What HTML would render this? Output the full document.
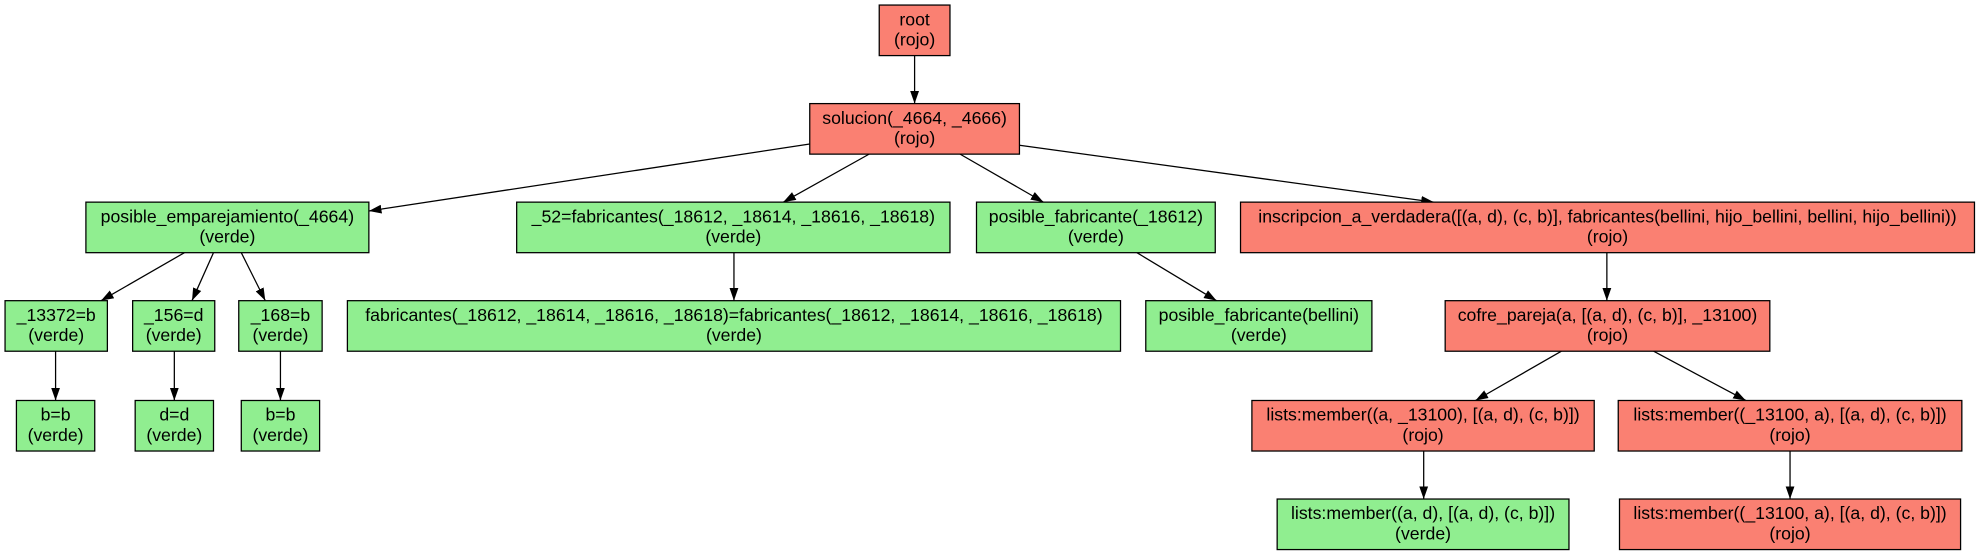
<!DOCTYPE html>
<html><head><style>html,body{margin:0;padding:0;background:#fff}svg{display:block}</style></head><body>
<svg width="1977" height="555" viewBox="0 0 1565 439.3" preserveAspectRatio="none" xmlns="http://www.w3.org/2000/svg">
<defs><marker id="a" viewBox="0 0 10 10" refX="10" refY="5" markerWidth="10" markerHeight="10" markerUnits="userSpaceOnUse" orient="auto"><path d="M0,1.5 L10,5 L0,8.5z" fill="#000"/></marker></defs>
<g stroke="#000" stroke-width="1" marker-end="url(#a)">
<line x1="724" y1="44" x2="724" y2="82"/>
<line x1="641" y1="114" x2="292" y2="167"/>
<line x1="688" y1="122" x2="620" y2="160"/>
<line x1="760" y1="122" x2="826" y2="160"/>
<line x1="807" y1="115" x2="1135" y2="160"/>
<line x1="146" y1="200" x2="80" y2="238"/>
<line x1="169" y1="200" x2="152" y2="238"/>
<line x1="191" y1="200" x2="210" y2="238"/>
<line x1="581" y1="200" x2="581" y2="238"/>
<line x1="900" y1="200" x2="963" y2="238"/>
<line x1="1272" y1="200" x2="1272" y2="238"/>
<line x1="44" y1="278" x2="44" y2="317"/>
<line x1="138" y1="278" x2="138" y2="317"/>
<line x1="222" y1="278" x2="222" y2="317"/>
<line x1="1236" y1="278" x2="1168" y2="317"/>
<line x1="1309" y1="278" x2="1382" y2="317"/>
<line x1="1127" y1="357" x2="1127" y2="395"/>
<line x1="1417" y1="357" x2="1417" y2="395"/>
</g>
<g stroke="#000" stroke-width="1">
<rect x="696" y="4" width="56" height="40" fill="#fa8072"/>
<rect x="641" y="82" width="166" height="40" fill="#fa8072"/>
<rect x="68" y="160" width="224" height="40" fill="#90ee90"/>
<rect x="409" y="160" width="343" height="40" fill="#90ee90"/>
<rect x="773" y="160" width="189" height="40" fill="#90ee90"/>
<rect x="982" y="160" width="581" height="40" fill="#fa8072"/>
<rect x="4" y="238" width="81" height="40" fill="#90ee90"/>
<rect x="105" y="238" width="65" height="40" fill="#90ee90"/>
<rect x="189" y="238" width="66" height="40" fill="#90ee90"/>
<rect x="275" y="238" width="612" height="40" fill="#90ee90"/>
<rect x="907" y="238" width="179" height="40" fill="#90ee90"/>
<rect x="1144" y="238" width="257" height="40" fill="#fa8072"/>
<rect x="13" y="317" width="62" height="40" fill="#90ee90"/>
<rect x="107" y="317" width="62" height="40" fill="#90ee90"/>
<rect x="191" y="317" width="62" height="40" fill="#90ee90"/>
<rect x="991" y="317" width="271" height="40" fill="#fa8072"/>
<rect x="1281" y="317" width="272" height="40" fill="#fa8072"/>
<rect x="1011" y="395" width="231" height="40" fill="#90ee90"/>
<rect x="1282" y="395" width="270" height="40" fill="#fa8072"/>
</g>
<g font-family="Liberation Sans, Arial, sans-serif" font-size="14" text-anchor="middle" fill="#000">
<text x="724" y="20">root</text><text x="724" y="36">(rojo)</text>
<text x="724" y="98">solucion(_4664, _4666)</text><text x="724" y="114">(rojo)</text>
<text x="180" y="176">posible_emparejamiento(_4664)</text><text x="180" y="192">(verde)</text>
<text x="580.5" y="176">_52=fabricantes(_18612, _18614, _18616, _18618)</text><text x="580.5" y="192">(verde)</text>
<text x="867.5" y="176">posible_fabricante(_18612)</text><text x="867.5" y="192">(verde)</text>
<text x="1272.5" y="176">inscripcion_a_verdadera([(a, d), (c, b)], fabricantes(bellini, hijo_bellini, bellini, hijo_bellini))</text><text x="1272.5" y="192">(rojo)</text>
<text x="44.5" y="254">_13372=b</text><text x="44.5" y="270">(verde)</text>
<text x="137.5" y="254">_156=d</text><text x="137.5" y="270">(verde)</text>
<text x="222" y="254">_168=b</text><text x="222" y="270">(verde)</text>
<text x="581" y="254">fabricantes(_18612, _18614, _18616, _18618)=fabricantes(_18612, _18614, _18616, _18618)</text><text x="581" y="270">(verde)</text>
<text x="996.5" y="254">posible_fabricante(bellini)</text><text x="996.5" y="270">(verde)</text>
<text x="1272.5" y="254">cofre_pareja(a, [(a, d), (c, b)], _13100)</text><text x="1272.5" y="270">(rojo)</text>
<text x="44" y="333">b=b</text><text x="44" y="349">(verde)</text>
<text x="138" y="333">d=d</text><text x="138" y="349">(verde)</text>
<text x="222" y="333">b=b</text><text x="222" y="349">(verde)</text>
<text x="1126.5" y="333">lists:member((a, _13100), [(a, d), (c, b)])</text><text x="1126.5" y="349">(rojo)</text>
<text x="1417" y="333">lists:member((_13100, a), [(a, d), (c, b)])</text><text x="1417" y="349">(rojo)</text>
<text x="1126.5" y="411">lists:member((a, d), [(a, d), (c, b)])</text><text x="1126.5" y="427">(verde)</text>
<text x="1417" y="411">lists:member((_13100, a), [(a, d), (c, b)])</text><text x="1417" y="427">(rojo)</text>
</g>
</svg>
</body></html>
